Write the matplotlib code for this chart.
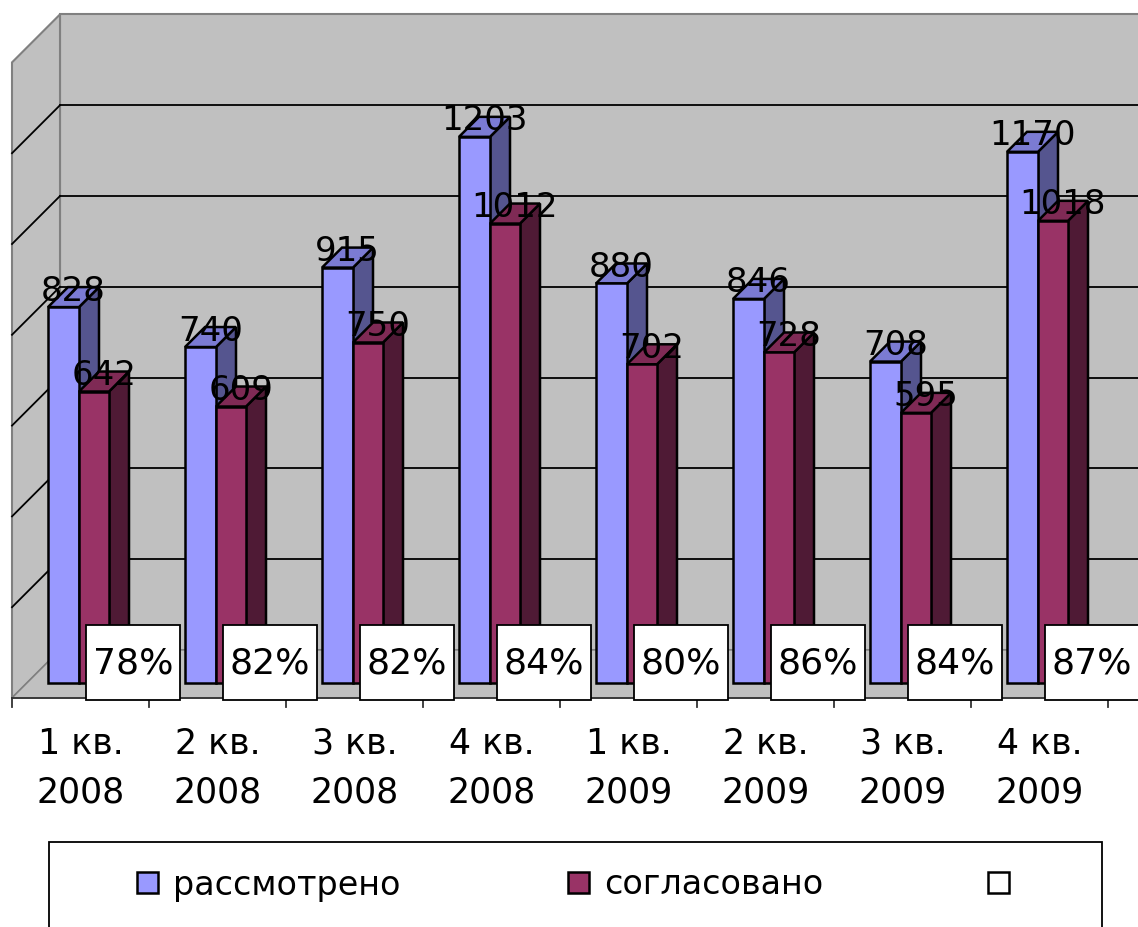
import matplotlib
matplotlib.use("Agg")
import matplotlib.pyplot as plt
from matplotlib.patches import Polygon, Rectangle

# данные
kvartaly = ["1 кв.\n2008", "2 кв.\n2008", "3 кв.\n2008", "4 кв.\n2008",
            "1 кв.\n2009", "2 кв.\n2009", "3 кв.\n2009", "4 кв.\n2009"]
rassmotreno = [828, 740, 915, 1203, 880, 846, 708, 1170]
soglasovano = [642, 609, 750, 1012, 702, 728, 595, 1018]
procent = [78, 82, 82, 84, 80, 86, 84, 87]
setka = [200, 400, 600, 800, 1000, 1200]
y_max = 1400

# geometry of the fake 3d (pixels)
W, H = 1138, 927
CAT_W = 137.0      # px per category
PXU = 0.454        # px per value unit
X0, Y0 = 12, 698   # pixel of category 0 / value 0 at the front edge
WALL_D = 48        # depth of the floor
BAR_D0 = 15        # bar front plane depth
BAR_DEPTH = 20     # bar thickness in depth

fig = plt.figure(figsize=(W / 100, H / 100), dpi=100)
ax = fig.add_axes([0, 0, 1, 1])
ax.set_xlim(-X0 / CAT_W, (W - X0) / CAT_W)
ax.set_ylim(-(H - Y0) / PXU, Y0 / PXU)
ax.axis("off")

n = len(kvartaly)


def pt(x, v, d=0.0, px=0.0):
    # x in categories, v in values, d depth px, px extra horizontal px
    return (x + (d + px) / CAT_W, v + d / PXU)


wall_c = "#C0C0C0"
wall_e = "#808080"

# back wall, side wall, floor
ax.add_patch(Polygon([pt(0, 0, WALL_D), pt(n, 0, WALL_D), pt(n, y_max, WALL_D), pt(0, y_max, WALL_D)],
                     closed=True, fc=wall_c, ec=wall_e, lw=1.5, zorder=1))
ax.add_patch(Polygon([pt(0, 0, 0), pt(0, 0, WALL_D), pt(0, y_max, WALL_D), pt(0, y_max, 0)],
                     closed=True, fc=wall_c, ec=wall_e, lw=1.5, zorder=1))
ax.add_patch(Polygon([pt(0, 0, 0), pt(n, 0, 0), pt(n, 0, WALL_D), pt(0, 0, WALL_D)],
                     closed=True, fc=wall_c, ec=wall_e, lw=1.0, zorder=1))

for g in setka:
    xs, ys = zip(pt(0, g, WALL_D), pt(n, g, WALL_D))
    ax.plot(xs, ys, color="black", lw=1.3, zorder=2)
    xs, ys = zip(pt(0, g, 0), pt(0, g, WALL_D))
    ax.plot(xs, ys, color="black", lw=1.3, zorder=2)

# category axis
ax.plot([0, n], [0, 0], color="#333333", lw=1.3, zorder=2)
for i in range(n + 1):
    ax.plot([i, i], [0, -9 / PXU], color="#333333", lw=1.3, zorder=2)


def bar3d(i, off, w, val, c_front, c_top, c_side):
    x_l = pt(i, 0, BAR_D0, off)[0]
    x_r = pt(i, 0, BAR_D0, off + w)[0]
    v0 = pt(0, 0, BAR_D0)[1]
    v1 = v0 + val
    dx = BAR_DEPTH / CAT_W
    dv = BAR_DEPTH / PXU
    ax.add_patch(Polygon([(x_r, v0), (x_r + dx, v0 + dv), (x_r + dx, v1 + dv), (x_r, v1)],
                         closed=True, fc=c_side, ec="black", lw=1.8, zorder=3))
    ax.add_patch(Polygon([(x_l, v1), (x_r, v1), (x_r + dx, v1 + dv), (x_l + dx, v1 + dv)],
                         closed=True, fc=c_top, ec="black", lw=1.8, zorder=3))
    ax.add_patch(Rectangle((x_l, v0), x_r - x_l, val, fc=c_front, ec="black", lw=1.8, zorder=3))
    # label over the top face
    ax.text((x_l + x_r) / 2 + dx / 2, v1 + dv / 2 + 6 / PXU, str(val),
            ha="center", va="center", fontsize=24.5, color="black", zorder=6)


for i in range(n):
    bar3d(i, 21, 31, rassmotreno[i], "#9999FF", "#7B7BD3", "#55558F")
    bar3d(i, 52, 30, soglasovano[i], "#993366", "#7F2A55", "#4F1A35")

# percent boxes
for i in range(n):
    bx = pt(i, 0, 0, 74)[0]
    ax.add_patch(Rectangle((bx, -2 / PXU), 94 / CAT_W, 75 / PXU,
                           fc="white", ec="black", lw=1.3, zorder=5))
    ax.text(bx + 47 / CAT_W, 35 / PXU, f"{procent[i]}%", ha="center", va="center",
            fontsize=26, color="black", zorder=6)

# category labels
for i, lab in enumerate(kvartaly):
    ax.text(i + 0.5, -70 / PXU, lab, ha="center", va="center", fontsize=25,
            linespacing=1.55, color="black")

# legend (pixel coords)
lg = fig.add_axes([0, 0, 1, 1])
lg.set_xlim(0, W)
lg.set_ylim(H, 0)
lg.axis("off")
lg.patch.set_alpha(0)
lg.add_patch(Rectangle((49, 842), 1053, 120, fc="white", ec="black", lw=1.3))
legend_items = [("#9999FF", "рассмотрено", 137), ("#993366", "согласовано", 568), ("white", "", 988)]
for col, txt, x in legend_items:
    lg.add_patch(Rectangle((x, 872), 21, 21, fc=col, ec="black", lw=1.8))
    lg.text(x + 36, 885, txt, ha="left", va="center", fontsize=24, color="black")

fig.savefig("out.png", dpi=100)
